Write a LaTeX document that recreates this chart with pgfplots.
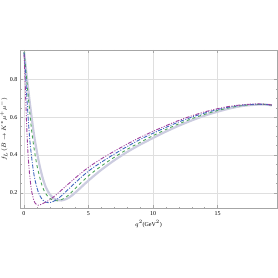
\documentclass[border=0pt]{standalone}
\usepackage{pgfplots}
\pgfplotsset{compat=1.18}
\usepackage{fontspec}
\setmainfont{Liberation Serif}
\definecolor{cgray}{rgb}{0.80,0.80,0.88}
\definecolor{cgreen}{rgb}{0.30,0.65,0.35}
\definecolor{cblue}{rgb}{0.25,0.40,0.75}
\definecolor{cpurple}{rgb}{0.62,0.25,0.62}
\begin{document}
\begin{tikzpicture}[x=1pt,y=1pt]
\useasboundingbox (0,0) rectangle (278,278);
\begin{axis}[
  at={(20pt,70pt)}, anchor=south west,
  width=257pt, height=158pt, scale only axis,
  xmin=-0.3, xmax=19.6, ymin=0.12, ymax=0.955,
  xtick={0,5,10,15}, ytick={0.2,0.4,0.6,0.8},
  minor x tick num=4, minor y tick num=3,
  yticklabel style={/pgf/number format/fixed,/pgf/number format/precision=1, xshift=1pt},
  /pgf/number format/assume math mode=true,
  tick label style={font=\fontsize{6}{7}\selectfont},
  label style={font=\fontsize{6}{7}\selectfont},
  tick align=inside,
  major tick length=3pt, minor tick length=1.5pt,
  every tick/.style={gray!70},
  axis line style={gray!70},
  grid=major, grid style={gray!25, line width=0.4pt},
  xlabel={$q^2$(GeV$^2$)},
  ylabel={$f_L(B\to K^*\mu^+\mu^-)$},
  xlabel style={yshift=2pt},
  ylabel style={at={(axis description cs:-0.063,0.5)}, anchor=center},
]
\addplot[cgray, line width=2.2pt, smooth] coordinates {
(0.02,0.945)(0.2,0.83)(0.4,0.71)(0.6,0.6)(0.8,0.5)(1.0,0.42)(1.2,0.35)(1.45,0.28)(1.7,0.23)(2.0,0.193)(2.3,0.172)(2.6,0.162)(2.9,0.16)(3.3,0.168)(3.7,0.185)(4.2,0.215)(5,0.265)(6,0.322)(7,0.372)(8,0.416)(9,0.455)(10,0.49)(11,0.524)(12,0.555)(13,0.583)(14,0.608)(15,0.629)(16,0.647)(17,0.66)(18,0.666)(18.8,0.666)(19.2,0.662)};
\addplot[cgreen, line width=0.9pt, dashed, smooth] coordinates {
(0.02,0.945)(0.15,0.85)(0.3,0.74)(0.45,0.63)(0.6,0.53)(0.8,0.43)(1.0,0.35)(1.2,0.29)(1.45,0.23)(1.7,0.195)(2.0,0.172)(2.3,0.16)(2.6,0.158)(3.0,0.167)(3.5,0.19)(4,0.225)(5,0.29)(6,0.342)(7,0.388)(8,0.43)(9,0.467)(10,0.502)(11,0.535)(12,0.565)(13,0.592)(14,0.615)(15,0.635)(16,0.651)(17,0.662)(18,0.667)(18.8,0.667)(19.2,0.663)};
\addplot[cblue, line width=0.9pt, dash pattern=on 4pt off 1.5pt on 1pt off 1.5pt, smooth] coordinates {
(0.02,0.94)(0.1,0.86)(0.2,0.74)(0.3,0.63)(0.4,0.53)(0.5,0.45)(0.65,0.36)(0.8,0.29)(1.0,0.23)(1.2,0.19)(1.45,0.163)(1.7,0.151)(1.9,0.148)(2.2,0.152)(2.6,0.168)(3,0.19)(4,0.255)(5,0.315)(6,0.362)(7,0.405)(8,0.445)(9,0.482)(10,0.515)(11,0.546)(12,0.575)(13,0.6)(14,0.622)(15,0.64)(16,0.655)(17,0.664)(18,0.668)(18.8,0.667)(19.2,0.663)};
\addplot[cpurple, line width=0.9pt, dash pattern=on 4pt off 1.5pt on 1pt off 1.5pt on 1pt off 1.5pt, smooth] coordinates {
(0.02,0.93)(0.08,0.82)(0.15,0.68)(0.22,0.55)(0.3,0.43)(0.4,0.33)(0.5,0.26)(0.6,0.21)(0.75,0.165)(0.9,0.143)(1.1,0.135)(1.3,0.138)(1.6,0.148)(2.0,0.163)(2.5,0.19)(3,0.22)(4,0.28)(5,0.335)(6,0.38)(7,0.42)(8,0.458)(9,0.493)(10,0.525)(11,0.555)(12,0.583)(13,0.607)(14,0.628)(15,0.645)(16,0.658)(17,0.666)(18,0.67)(18.8,0.668)(19.2,0.664)};
\end{axis}
\end{tikzpicture}
\end{document}
